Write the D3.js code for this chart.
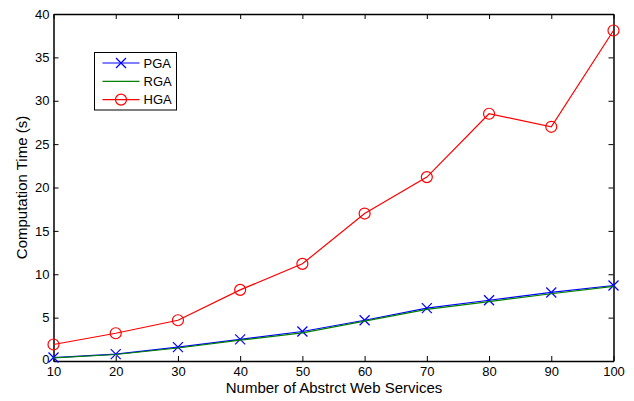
<!DOCTYPE html>
<html>
<head>
<meta charset="utf-8">
<script src="https://cdn.jsdelivr.net/npm/d3@7"></script>
<style>
  body { margin: 0; background: #fff; }
  text { font-family: "Liberation Sans", Arial, Helvetica, sans-serif; }
</style>
</head>
<body>
<div id="chart"></div>
<script>
const services = [10, 20, 30, 40, 50, 60, 70, 80, 90, 100]
const pga = [0.4, 0.8, 1.6, 2.5, 3.4, 4.7, 6.1, 7.0, 7.9, 8.7]
const rga = [0.35, 0.75, 1.5, 2.4, 3.25, 4.6, 5.95, 6.85, 7.75, 8.6]
const hga = [1.9, 3.2, 4.7, 8.2, 11.2, 17.0, 21.2, 28.5, 27.0, 38.1]
const xTicks = [10, 20, 30, 40, 50, 60, 70, 80, 90, 100]
const yTicks = [0, 5, 10, 15, 20, 25, 30, 35, 40]

const width = 634
const height = 401
const margin = { left: 53.5, right: 20.5, top: 14, bottom: 40 }

const svg = d3.select('#chart')
    .append('svg')
    .attr('width', width)
    .attr('height', height)

const scaleX = d3.scaleLinear()
    .domain([10, 100])
    .range([margin.left, width - margin.right])

const scaleY = d3.scaleLinear()
    .domain([0, 40])
    .range([height - margin.bottom, margin.top])

const tickLen = 5

// axes (ticks point inward, box on all sides)
const axBottom = svg.append('g')
    .attr('transform', `translate(0, ${scaleY(0)})`)
    .call(d3.axisBottom(scaleX).tickValues(xTicks).tickSize(-tickLen).tickPadding(6).tickSizeOuter(0))
const axTop = svg.append('g')
    .attr('transform', `translate(0, ${scaleY(40)})`)
    .call(d3.axisTop(scaleX).tickValues(xTicks).tickSize(-tickLen).tickFormat('').tickSizeOuter(0))
const axLeft = svg.append('g')
    .attr('transform', `translate(${scaleX(10)}, 0)`)
    .call(d3.axisLeft(scaleY).tickValues(yTicks).tickSize(-tickLen).tickPadding(4).tickSizeOuter(0))
const axRight = svg.append('g')
    .attr('transform', `translate(${scaleX(100)}, 0)`)
    .call(d3.axisRight(scaleY).tickValues(yTicks).tickSize(-tickLen).tickFormat('').tickSizeOuter(0))

for (const ax of [axBottom, axTop, axLeft, axRight]) {
    ax.select('.domain').attr('stroke', '#000').attr('stroke-width', 1.5)
    ax.selectAll('.tick line').attr('stroke', '#000').attr('stroke-width', 1)
    ax.selectAll('.tick text')
        .attr('fill', '#000')
        .attr('font-size', 13)
        .attr('font-family', '"Liberation Sans", Arial, Helvetica, sans-serif')
}

// the "0" on the y axis sits just above the corner, as in the original
axLeft.selectAll('.tick').filter(d => d === 0).select('text').attr('dy', '0.2em')

// axis labels
svg.append('text')
    .text('Number of Abstrct Web Services')
    .attr('x', 334)
    .attr('y', 393)
    .attr('text-anchor', 'middle')
    .attr('font-size', 15)

svg.append('text')
    .text('Computation Time (s)')
    .attr('transform', `translate(27, ${(scaleY(0) + scaleY(40)) / 2}) rotate(-90)`)
    .attr('text-anchor', 'middle')
    .attr('font-size', 15)

const line = d3.line()
    .x((d, i) => scaleX(services[i]))
    .y(d => scaleY(d))

// HGA
svg.append('path')
    .datum(hga)
    .attr('d', line)
    .attr('fill', 'none')
    .attr('stroke', '#ff0000')
    .attr('stroke-width', 1.2)

svg.append('g').selectAll('circle')
    .data(hga)
    .join('circle')
    .attr('cx', (d, i) => scaleX(services[i]))
    .attr('cy', d => scaleY(d))
    .attr('r', 5.5)
    .attr('fill', 'none')
    .attr('stroke', '#ff0000')
    .attr('stroke-width', 1.2)

// PGA
svg.append('path')
    .datum(pga)
    .attr('d', line)
    .attr('fill', 'none')
    .attr('stroke', '#0000ff')
    .attr('stroke-width', 1.2)

const cross = (g, s) => {
    g.append('line').attr('x1', -s).attr('y1', -s).attr('x2', s).attr('y2', s)
    g.append('line').attr('x1', -s).attr('y1', s).attr('x2', s).attr('y2', -s)
}

svg.append('g').selectAll('g')
    .data(pga)
    .join('g')
    .attr('transform', (d, i) => `translate(${scaleX(services[i])}, ${scaleY(d)})`)
    .attr('stroke', '#0000ff')
    .attr('stroke-width', 1.2)
    .each(function () { cross(d3.select(this), 5) })

// RGA
svg.append('path')
    .datum(rga)
    .attr('d', line)
    .attr('fill', 'none')
    .attr('stroke', '#007f00')
    .attr('stroke-width', 1.2)

// Legend
const legend = svg.append('g')
    .attr('transform', 'translate(94.5, 52.5)')

legend.append('rect')
    .attr('width', 82)
    .attr('height', 57.5)
    .attr('fill', '#fff')
    .attr('stroke', '#000')
    .attr('stroke-width', 1)

const entries = [
    { label: 'PGA', color: '#0000ff', marker: 'x' },
    { label: 'RGA', color: '#007f00', marker: null },
    { label: 'HGA', color: '#ff0000', marker: 'o' }
]

const item = legend.selectAll('g.item')
    .data(entries)
    .join('g')
    .attr('class', 'item')
    .attr('transform', (d, i) => `translate(0, ${10.5 + i * 18.3})`)

item.append('line')
    .attr('x1', 8).attr('x2', 45)
    .attr('stroke', d => d.color)
    .attr('stroke-width', 1.2)

item.append('text')
    .text(d => d.label)
    .attr('x', 49)
    .attr('y', 4.5)
    .attr('font-size', 13)

item.filter(d => d.marker === 'o')
    .append('circle')
    .attr('cx', 26.5).attr('r', 5.5)
    .attr('fill', 'none')
    .attr('stroke', d => d.color)
    .attr('stroke-width', 1.2)

item.filter(d => d.marker === 'x')
    .append('g')
    .attr('transform', 'translate(26.5, 0)')
    .attr('stroke', d => d.color)
    .attr('stroke-width', 1.2)
    .each(function () { cross(d3.select(this), 5) })
</script>
</body>
</html>
